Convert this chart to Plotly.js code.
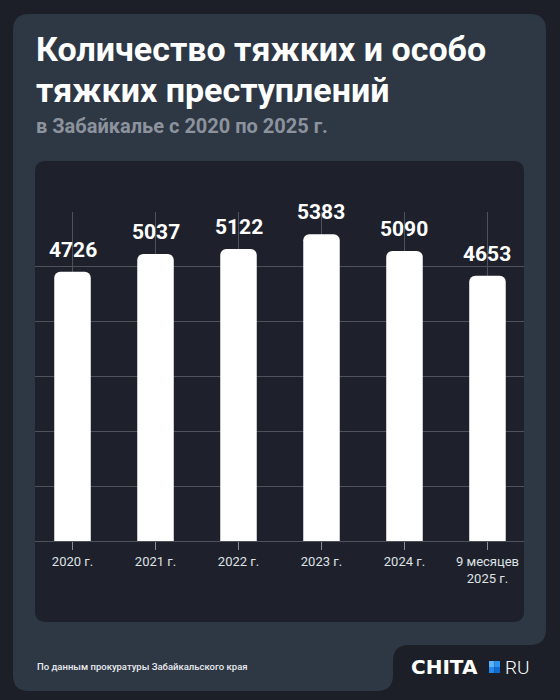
<!DOCTYPE html>
<html>
<head>
<meta charset="utf-8">
<script src="https://cdn.plot.ly/plotly-3.0.1.min.js"></script>
<style>
  html, body { margin: 0; padding: 0; background: #1c1f27; }
  #chart { width: 560px; height: 700px; }
</style>
</head>
<body>
<div id="chart"></div>
<script>
// ---- data ----
const categories = ["2020 г.", "2021 г.", "2022 г.", "2023 г.", "2024 г.", "9 месяцев<br>2025 г."];
const values = [4726, 5037, 5122, 5383, 5090, 4653];
const valueLabels = ["4726", "5037", "5122", "5383", "5090", "4653"];

const titleLine1 = "Количество тяжких и особо";
const titleLine2 = "тяжких преступлений";
const subtitle = "в Забайкалье с 2020 по 2025 г.";
const sourceText = "По данным прокуратуры Забайкальского края";

// ---- helpers: pixel -> paper ----
const W = 560, H = 700;
const px = x => x / W;
const py = y => 1 - y / H;
function pathFromPixels(cmds) {
  return cmds.map(c => {
    const l = c[0];
    const nums = [];
    for (let i = 1; i < c.length; i += 2) {
      nums.push(px(c[i]).toFixed(5) + "," + py(c[i + 1]).toFixed(5));
    }
    return l + nums.join(" ");
  }).join(" ") + " Z";
}
function roundRect(x0, y0, x1, y1, r) {
  return pathFromPixels([
    ["M", x0 + r, y0], ["L", x1 - r, y0], ["Q", x1, y0, x1, y0 + r],
    ["L", x1, y1 - r], ["Q", x1, y1, x1 - r, y1],
    ["L", x0 + r, y1], ["Q", x0, y1, x0, y1 - r],
    ["L", x0, y0 + r], ["Q", x0, y0, x0 + r, y0]
  ]);
}

const cardPath = pathFromPixels([
  ["M", 29, 14], ["L", 530, 14], ["Q", 546, 14, 546, 30],
  ["L", 546, 629], ["Q", 546, 645, 530, 645],
  ["L", 409, 645], ["Q", 393, 645, 393, 661],
  ["L", 393, 675], ["Q", 393, 691, 377, 691],
  ["L", 29, 691], ["Q", 13, 691, 13, 675],
  ["L", 13, 30], ["Q", 13, 14, 29, 14]
]);

const shapes = [
  { type: "path", xref: "paper", yref: "paper", path: cardPath,
    fillcolor: "#2e3744", line: { width: 0 }, layer: "below" },
  { type: "path", xref: "paper", yref: "paper", path: roundRect(35, 161, 524, 622, 11),
    fillcolor: "#1e212b", line: { width: 0 }, layer: "below" },
  // logo square (4 shaded quarters)
  { type: "rect", xref: "paper", yref: "paper", x0: px(489), x1: px(494.5), y0: py(661), y1: py(667),
    fillcolor: "#59b2fa", line: { width: 0 } },
  { type: "rect", xref: "paper", yref: "paper", x0: px(494.5), x1: px(500), y0: py(661), y1: py(667),
    fillcolor: "#2a94f2", line: { width: 0 } },
  { type: "rect", xref: "paper", yref: "paper", x0: px(489), x1: px(494.5), y0: py(667), y1: py(673),
    fillcolor: "#2389ec", line: { width: 0 } },
  { type: "rect", xref: "paper", yref: "paper", x0: px(494.5), x1: px(500), y0: py(667), y1: py(673),
    fillcolor: "#0e6dd2", line: { width: 0 } }
];

const annotations = [
  { xref: "paper", yref: "paper", x: px(35), y: py(49), xanchor: "left", yanchor: "middle",
    text: titleLine1, showarrow: false, borderpad: 0,
    font: { family: "Roboto", size: 34, color: "#ffffff", weight: 700 } },
  { xref: "paper", yref: "paper", x: px(35), y: py(89.5), xanchor: "left", yanchor: "middle",
    text: titleLine2, showarrow: false, borderpad: 0,
    font: { family: "Roboto", size: 34, color: "#ffffff", weight: 700 } },
  { xref: "paper", yref: "paper", x: px(35), y: py(126), xanchor: "left", yanchor: "middle",
    text: subtitle, showarrow: false, borderpad: 0,
    font: { family: "Roboto", size: 20, color: "#8c939d", weight: 700 } },
  { xref: "paper", yref: "paper", x: px(35), y: py(666), xanchor: "left", yanchor: "middle",
    text: sourceText, showarrow: false,
    font: { family: "Roboto", size: 9.5, color: "#e9ebee", weight: 500 } },
  { xref: "paper", yref: "paper", x: px(409), y: py(667), xanchor: "left", yanchor: "middle",
    text: "CHITA", showarrow: false,
    font: { family: "DejaVu Sans", size: 20, color: "#ffffff", weight: 700 } },
  { xref: "paper", yref: "paper", x: px(503), y: py(667), xanchor: "left", yanchor: "middle",
    text: "RU", showarrow: false,
    font: { family: "Roboto", size: 19, color: "#ffffff", weight: 300 } }
];

categories.forEach((c, i) => {
  annotations.push({
    xref: "x", yref: "y", x: c, y: values[i], xanchor: "center", yanchor: "bottom",
    yshift: 8, text: valueLabels[i], showarrow: false,
    font: { family: "Roboto", size: 21, color: "#ffffff", weight: 700 }
  });
});

const trace = {
  type: "bar",
  x: categories,
  y: values,
  width: 0.44,
  marker: { color: "#ffffff", cornerradius: 6, line: { width: 0 } },
  hoverinfo: "skip"
};

const layout = {
  width: W, height: H,
  margin: { l: 0, r: 0, t: 0, b: 0, pad: 0 },
  paper_bgcolor: "#1c1f27",
  plot_bgcolor: "rgba(0,0,0,0)",
  showlegend: false,
  xaxis: {
    type: "category",
    domain: [px(35), px(524)],
    range: [-0.452, 5.44],
    showgrid: true, gridcolor: "#4d525b", gridwidth: 1,
    showline: true, linecolor: "#4d525b", linewidth: 1,
    ticks: "outside", ticklen: 8, tickcolor: "#8a8f97", tickwidth: 1,
    ticklabelstandoff: 0,
    tickfont: { family: "Roboto", size: 13, color: "#dfe2e6" },
    fixedrange: true
  },
  yaxis: {
    domain: [py(541), py(212)],
    range: [0, 5773],
    tick0: 0, dtick: 962,
    showgrid: true, gridcolor: "#4d525b", gridwidth: 1,
    zeroline: true, zerolinecolor: "#4d525b", zerolinewidth: 1,
    showticklabels: false, ticks: "",
    fixedrange: true
  },
  shapes: shapes,
  annotations: annotations
};

Plotly.newPlot("chart", [trace], layout, { displayModeBar: false, staticPlot: true });
</script>
</body>
</html>
